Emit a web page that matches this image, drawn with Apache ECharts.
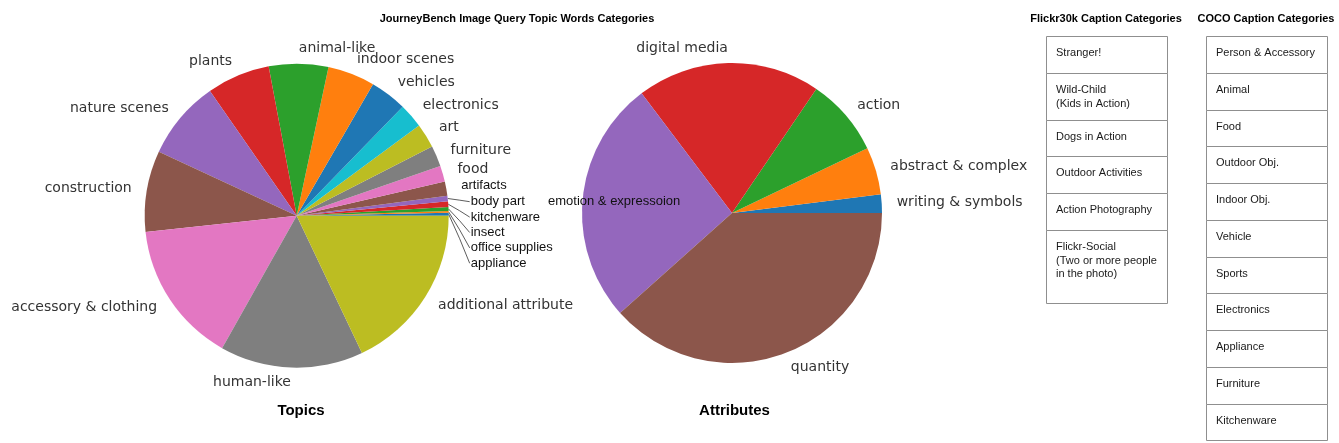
<!DOCTYPE html>
<html>
<head>
<meta charset="utf-8">
<script src="https://cdn.jsdelivr.net/npm/echarts@6/dist/echarts.min.js"></script>
<style>
  body { margin: 0; background: #fff; }
  #main { width: 1339px; height: 443px; }
</style>
</head>
<body>
<div id="main"></div>
<script>
// pie data, counter-clockwise from 3 o'clock (matplotlib order)
var topicNames = ['appliance', 'office supplies', 'insect', 'kitchenware', 'body part', 'artifacts',
  'food', 'furniture', 'art', 'electronics', 'vehicles', 'indoor scenes', 'animal-like', 'plants',
  'nature scenes', 'construction', 'accessory & clothing', 'human-like', 'additional attribute']
var topicShares = [0.3, 0.2, 0.4, 0.6, 0.6, 1.5, 1.7, 2.2, 2.6, 2.6, 3.9, 5.0, 6.3, 6.7, 8.4, 8.6, 15.1, 15.2, 17.9]

var attributeNames = ['writing & symbols', 'abstract & complex', 'action', 'digital media',
  'emotion & expressoion', 'quantity']
var attributeShares = [2.0, 5.1, 8.4, 19.8, 26.3, 38.4]

var flickrCategories = ['Stranger!', 'Wild-Child\n(Kids in Action)', 'Dogs in Action', 'Outdoor Activities',
  'Action Photography', 'Flickr-Social\n(Two or more people\nin the photo)']
var cocoCategories = ['Person & Accessory', 'Animal', 'Food', 'Outdoor Obj.', 'Indoor Obj.', 'Vehicle',
  'Sports', 'Electronics', 'Appliance', 'Furniture', 'Kitchenware']

var palette = ['#1f77b4', '#ff7f0e', '#2ca02c', '#d62728', '#9467bd',
  '#8c564b', '#e377c2', '#7f7f7f', '#bcbd22', '#17becf']

// layout
var topicCenter = [296.7, 215.7]
var topicRadius = 152
var attrCenter = [732, 213]
var attrRadius = 150
var smallTopics = 5  // the thin slices with leader lines
var arialLabels = ['artifacts', 'body part', 'kitchenware', 'insect', 'office supplies', 'appliance']

var arial = '"Liberation Sans", Arial, sans-serif'
var dejavu = '"DejaVu Sans", sans-serif'

function topicData () {
  return topicNames.map(function (name, i) {
    var item = { name: name, value: topicShares[i], itemStyle: { color: palette[i % 10] } }
    if (arialLabels.indexOf(name) >= 0) {
      item.label = { fontFamily: arial, fontSize: 13, color: '#111' }
    }
    if (i < smallTopics) {
      item.labelLine = { show: true, lineStyle: { color: '#333', width: 0.8 } }
    }
    return item
  })
}

function attributeData () {
  return attributeNames.map(function (name, i) {
    var item = { name: name, value: attributeShares[i], itemStyle: { color: palette[i % 10] } }
    if (name === 'emotion & expressoion') {
      item.label = { fontFamily: arial, fontSize: 13, color: '#111' }
    }
    return item
  })
}

function pieSeries (center, radius, data, layoutFn) {
  return {
    type: 'pie',
    center: center,
    radius: radius,
    startAngle: 0,
    clockwise: false,
    avoidLabelOverlap: false,
    silent: true,
    itemStyle: { borderWidth: 0 },
    label: {
      position: 'outside',
      fontFamily: dejavu,
      fontSize: 14,
      color: '#333',
      distanceToLabelLine: 0
    },
    labelLine: { show: false, length: radius * 0.1, length2: 0 },
    labelLayout: layoutFn,
    data: data
  }
}

function topicLabelLayout (params) {
  var i = params.dataIndex
  if (i >= smallTopics) return {}
  var k = smallTopics - 1 - i
  var x = topicCenter[0] + 174
  var y = topicCenter[1] - 14 + k * 15.4
  var p0 = (params.labelLinePoints && params.labelLinePoints[0]) || [topicCenter[0] + topicRadius, topicCenter[1]]
  return {
    x: x,
    y: y,
    align: 'left',
    verticalAlign: 'middle',
    labelLinePoints: [p0, [(p0[0] + x) / 2, (p0[1] + y) / 2], [x - 1, y]]
  }
}

function attrLabelLayout (params) {
  if (attributeNames[params.dataIndex] !== 'emotion & expressoion') return {}
  return { x: attrCenter[0] - 184, y: attrCenter[1] - 12, align: 'left', verticalAlign: 'middle' }
}

function titleText (text, x, y, size) {
  return {
    type: 'text',
    x: x,
    y: y,
    silent: true,
    style: {
      text: text,
      font: 'bold ' + size + 'px ' + arial,
      fill: '#000',
      align: 'center',
      verticalAlign: 'middle'
    }
  }
}

// a column of boxes with one category each
function categoryTable (items, left, top, width, heights) {
  var out = []
  var y = top
  items.forEach(function (text, i) {
    var h = heights[i]
    out.push({
      type: 'rect',
      silent: true,
      shape: { x: Math.round(left) + 0.5, y: Math.round(y) + 0.5, width: width, height: Math.round(y + h) - Math.round(y) },
      style: { fill: '#fff', stroke: '#8f8f8f', lineWidth: 1 }
    })
    out.push({
      type: 'text',
      silent: true,
      x: left + 10,
      y: y + 10.2,
      style: {
        text: text,
        font: '11px ' + arial,
        fill: '#1a1a1a',
        align: 'left',
        verticalAlign: 'top',
        lineHeight: 13.7
      }
    })
    y += h
  })
  return out
}

var flickrHeights = [37, 46.7, 36.6, 36.7, 37, 73.3]
var cocoHeights = cocoCategories.map(function () { return 36.75 })

var graphics = [
  titleText('JourneyBench Image Query Topic Words Categories', 517, 19, 11),
  titleText('Topics', 301, 411, 15),
  titleText('Attributes', 734.5, 411, 15),
  titleText('Flickr30k Caption Categories', 1106, 18.5, 11),
  titleText('COCO Caption Categories', 1266, 18.5, 11)
].concat(categoryTable(flickrCategories, 1046, 36, 121, flickrHeights))
  .concat(categoryTable(cocoCategories, 1206, 36, 121, cocoHeights))

var myChart = echarts.init(document.getElementById('main'))
var option = {
  animation: false,
  backgroundColor: '#fff',
  graphic: graphics,
  series: [
    pieSeries(topicCenter, topicRadius, topicData(), topicLabelLayout),
    pieSeries(attrCenter, attrRadius, attributeData(), attrLabelLayout)
  ]
}
myChart.setOption(option)
</script>
</body>
</html>
